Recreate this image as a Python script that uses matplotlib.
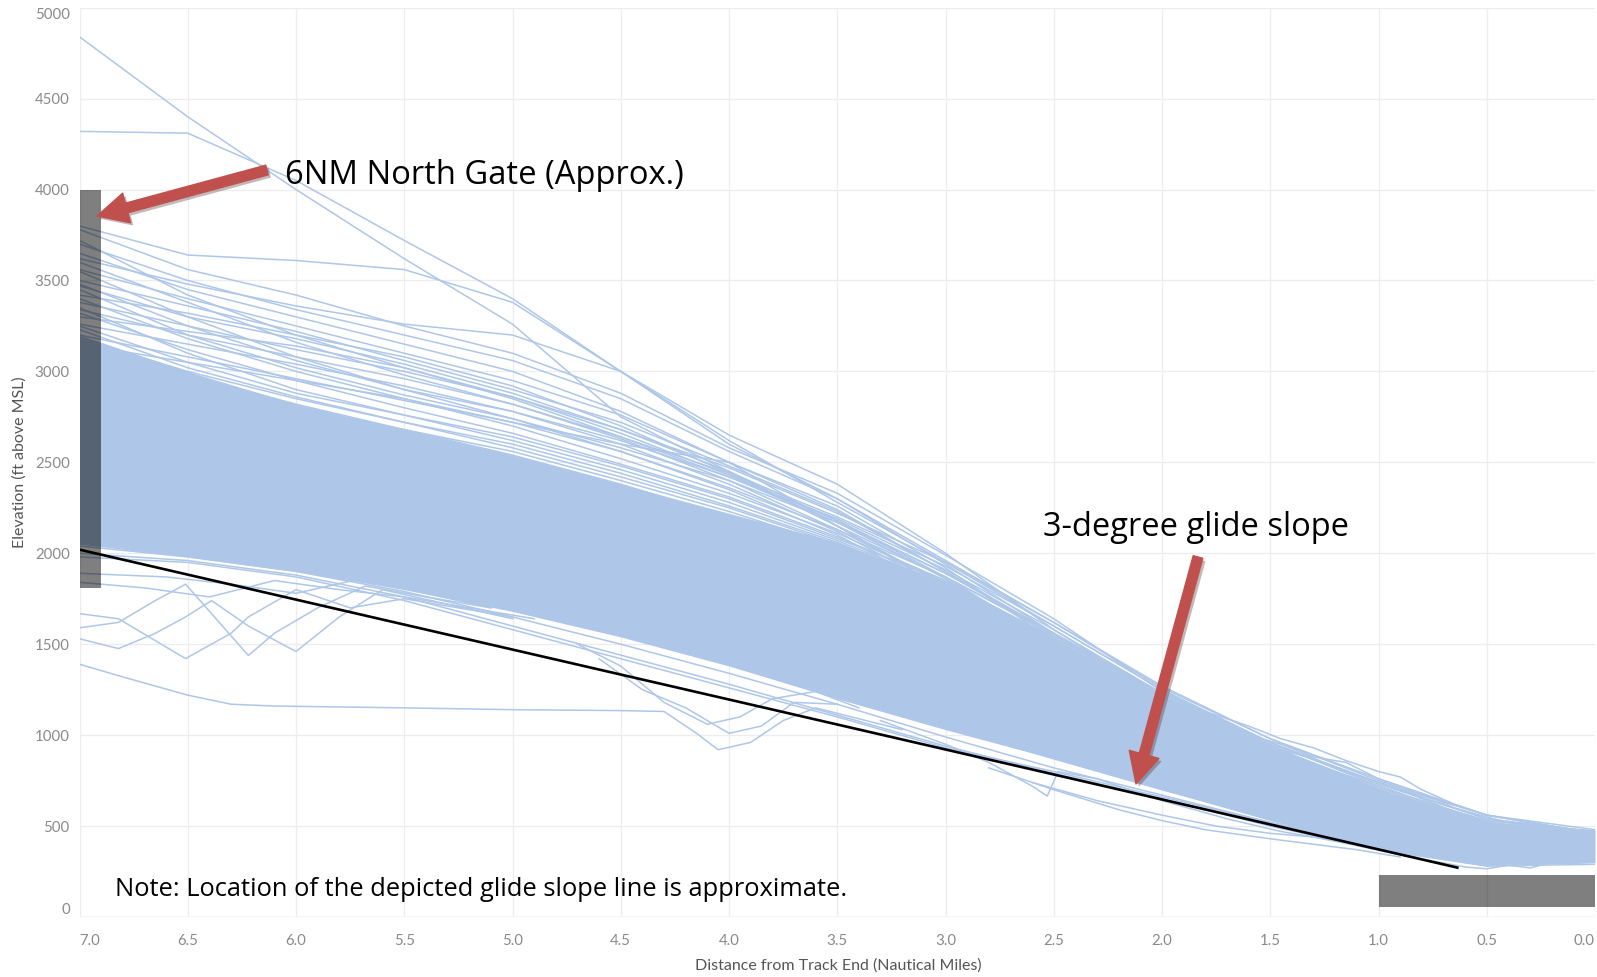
import matplotlib
matplotlib.use("Agg")
import matplotlib.pyplot as plt
from matplotlib.patches import FancyArrowPatch
from matplotlib.transforms import IdentityTransform
import matplotlib.patheffects as pe

W, H = 1597, 977

# distance grid (NM from track end) shared by most tracks
DIST = [7.0, 6.5, 6.0, 5.5, 5.0, 4.5, 4.0, 3.5, 3.0, 2.5, 2.0, 1.5, 1.0, 0.5, 0.0]

# dense core of the tracks (ft above MSL)
BAND_TOP = [3200, 3000, 2820, 2680, 2540, 2380, 2220, 2060, 1840, 1530, 1210, 930, 700, 520, 480]
BAND_BOTTOM = [2050, 1980, 1900, 1800, 1680, 1540, 1380, 1200, 1030, 870, 700, 530, 370, 280, 300]

# individual tracks above the core, on DIST
UPPER_TRACKS = [
    [4840, 4400, 4000, 3620, 3260, 2750, 2450, 2150, 1870, 1560, 1230, 960, 720, 520, 420],
    [4320, 4310, 4050, 3720, 3400, 3000, 2620, 2280, 1950, 1600, 1250, 930, 700, 500, 420],
    [3800, 3640, 3610, 3560, 3380, 3000, 2600, 2300, 1960, 1620, 1260, 980, 760, 560, 460],
    [3780, 3560, 3420, 3250, 3100, 2880, 2580, 2330, 1990, 1640, 1240, 960, 740, 540, 450],
    [3700, 3500, 3340, 3200, 3060, 2850, 2560, 2300, 1940, 1560, 1220, 940, 700, 520, 440],
    [3650, 3450, 3300, 3150, 3000, 2780, 2500, 2240, 1900, 1540, 1200, 920, 680, 500, 430],
    [3620, 3480, 3360, 3260, 3200, 3000, 2650, 2380, 2000, 1580, 1210, 900, 660, 500, 420],
    [3560, 3400, 3250, 3100, 2950, 2760, 2500, 2260, 1920, 1520, 1180, 890, 650, 480, 420],
    [3500, 3360, 3220, 3060, 2900, 2720, 2480, 2230, 1900, 1560, 1230, 950, 740, 560, 460],
    [3470, 3300, 3180, 3040, 2880, 2680, 2450, 2180, 1870, 1500, 1170, 880, 640, 470, 400],
    [3420, 3320, 3200, 3080, 2920, 2700, 2440, 2150, 1820, 1480, 1150, 860, 630, 470, 410],
    [3380, 3250, 3120, 3000, 2860, 2660, 2430, 2180, 1890, 1560, 1200, 910, 680, 520, 450],
    [3340, 3200, 3080, 2960, 2820, 2630, 2400, 2130, 1830, 1480, 1140, 870, 640, 480, 420],
    [3300, 3220, 3140, 3020, 2850, 2640, 2420, 2170, 1860, 1510, 1170, 880, 660, 500, 440],
    [3260, 3150, 3040, 2920, 2780, 2600, 2380, 2120, 1800, 1460, 1120, 850, 620, 460, 400],
    [3200, 3080, 2960, 2840, 2720, 2560, 2350, 2100, 1790, 1450, 1110, 840, 610, 450, 390],
    [3150, 3050, 2950, 2850, 2720, 2600, 2500, 2150, 1800, 1470, 1130, 860, 640, 470, 410],
    [3250, 3050, 2880, 2760, 2640, 2480, 2300, 2080, 1850, 1530, 1190, 900, 670, 500, 440],
    [3180, 3000, 2850, 2720, 2600, 2440, 2260, 2060, 1820, 1500, 1160, 880, 650, 490, 430],
    [3120, 2960, 2800, 2680, 2560, 2400, 2230, 2040, 1840, 1540, 1220, 920, 690, 510, 450],
    [3150, 2980, 2820, 2680, 2540, 2380, 2200, 2000, 1790, 1480, 1160, 890, 660, 490, 440],
    [3080, 2940, 2800, 2660, 2520, 2360, 2180, 1990, 1770, 1470, 1150, 880, 650, 480, 430],
    [3320, 3120, 2950, 2800, 2660, 2490, 2310, 2090, 1840, 1520, 1180, 900, 670, 500, 450],
    [3400, 3180, 3000, 2850, 2700, 2520, 2330, 2110, 1850, 1530, 1190, 910, 680, 510, 450],
    [3550, 3300, 3080, 2900, 2740, 2560, 2360, 2130, 1870, 1550, 1210, 930, 700, 520, 460],
    [3480, 3250, 3060, 2900, 2780, 2620, 2420, 2190, 1910, 1580, 1230, 940, 710, 530, 470],
    [3600, 3380, 3160, 2980, 2820, 2640, 2440, 2200, 1930, 1600, 1250, 960, 730, 540, 470],
    [3720, 3420, 3200, 3020, 2860, 2680, 2470, 2220, 1950, 1620, 1270, 980, 750, 560, 480],
    [3350, 3100, 2900, 2760, 2620, 2460, 2280, 2070, 1830, 1510, 1170, 890, 660, 490, 440],
    [3050, 2920, 2780, 2640, 2500, 2340, 2170, 1980, 1760, 1460, 1140, 870, 640, 480, 430],
    [3230, 3020, 2860, 2720, 2580, 2420, 2250, 2050, 1820, 1500, 1160, 880, 650, 480, 430],
    [3450, 3200, 3020, 2870, 2740, 2580, 2400, 2170, 1890, 1560, 1210, 930, 700, 520, 460],
]

# tracks along the lower edge of the core, on DIST
LOWER_TRACKS = [
    [2100, 2020, 1950, 1840, 1700, 1550, 1400, 1230, 1050, 870, 700, 540, 400, 300, 310],
    [2040, 1980, 1900, 1790, 1650, 1500, 1340, 1170, 990, 820, 670, 520, 380, 290, 300],
    [2000, 1960, 1880, 1760, 1600, 1440, 1280, 1110, 940, 790, 650, 500, 370, 280, 290],
    [1980, 1950, 1870, 1740, 1580, 1420, 1260, 1100, 930, 800, 660, 520, 390, 300, 320],
]

# irregular tracks, each with its own distances
ODD_X = [
    [7.0, 6.82, 6.65, 6.51, 6.39, 6.22, 6.0, 5.8, 5.6, 5.3, 5.0],
    [7.0, 6.82, 6.51, 6.3, 6.22, 6.0, 5.75, 5.5, 5.2, 5.0],
    [7.0, 6.82, 6.65, 6.51, 6.22, 6.1, 5.9, 5.68, 5.4, 5.1],
    [7.0, 6.7, 6.4, 6.1, 5.8, 5.5, 5.2, 4.9],
    [7.0, 6.6, 6.3, 6.0, 5.7, 5.4, 5.1],
    [7.0, 6.8, 6.5, 6.3, 6.1, 5.5, 5.0, 4.5, 4.3, 4.15, 4.05, 3.9, 3.75, 3.6, 3.4, 3.2],
    [4.7, 4.5, 4.3, 4.1, 3.95, 3.8, 3.6, 3.4],
    [4.6, 4.4, 4.2, 4.0, 3.85, 3.7, 3.5],
    [3.3, 3.0, 2.8, 2.6, 2.53, 2.48, 2.3, 2.0, 1.7, 1.45, 1.2, 1.0],
    [2.8, 2.5, 2.2, 2.0, 1.8, 1.5, 1.3, 1.1, 0.9],
    [2.6, 2.3, 2.0, 1.75, 1.5, 1.3, 1.05, 0.85],
    [2.0, 1.8, 1.6, 1.45, 1.3, 1.15, 1.0, 0.9, 0.8, 0.65, 0.5, 0.4, 0.3, 0.2, 0.1, 0.0],
    [2.0, 1.8, 1.6, 1.45, 1.3, 1.15, 1.0, 0.9, 0.8, 0.65, 0.5, 0.4, 0.3, 0.2, 0.1, 0.0],
    [2.0, 1.8, 1.6, 1.45, 1.3, 1.15, 1.0, 0.9, 0.8, 0.65, 0.5, 0.4, 0.3, 0.2, 0.1, 0.0],
    [2.0, 1.8, 1.6, 1.45, 1.3, 1.15, 1.0, 0.9, 0.8, 0.65, 0.5, 0.4, 0.3, 0.2, 0.1, 0.0],
    [1.0, 0.8, 0.6, 0.5, 0.4, 0.3, 0.2, 0.1, 0.0],
]
ODD_Y = [
    [1530, 1476, 1560, 1650, 1740, 1600, 1460, 1650, 1800, 1720, 1640],
    [1668, 1640, 1421, 1560, 1650, 1800, 1700, 1750, 1690, 1650],
    [1590, 1620, 1740, 1830, 1438, 1560, 1700, 1820, 1760, 1700],
    [1840, 1810, 1760, 1850, 1800, 1760, 1700, 1640],
    [1890, 1870, 1830, 1780, 1860, 1780, 1700],
    [1390, 1320, 1220, 1170, 1160, 1150, 1140, 1135, 1130, 1010, 920, 960, 1080, 1150, 1090, 1030],
    [1500, 1380, 1180, 1060, 1100, 1200, 1240, 1150],
    [1420, 1250, 1150, 1010, 1050, 1180, 1170],
    [1080, 950, 850, 720, 665, 800, 760, 640, 540, 470, 420, 380],
    [820, 700, 590, 530, 480, 430, 400, 370, 330],
    [740, 640, 560, 500, 460, 440, 380, 330],
    [1230, 1130, 1050, 980, 930, 860, 800, 770, 700, 620, 560, 540, 520, 500, 480, 470],
    [1180, 1100, 1000, 950, 880, 850, 760, 720, 680, 600, 550, 520, 510, 490, 470, 460],
    [1150, 1060, 990, 920, 870, 800, 740, 700, 650, 580, 530, 520, 500, 470, 460, 450],
    [1120, 1040, 960, 900, 840, 780, 720, 680, 620, 560, 520, 500, 480, 460, 440, 430],
    [380, 320, 275, 265, 285, 270, 300, 290, 310],
]

# 3-degree glide slope (approximate)
GLIDE_X = [7.0, 0.63]
GLIDE_Y = [2020, 270]

# north gate and runway blocks
GATE_X = (7.0, 6.9)
GATE_Y = (1810, 4000)
RUNWAY_X = (1.0, 0.0)
RUNWAY_Y = (55, 230)

X_TICKS = [7.0, 6.5, 6.0, 5.5, 5.0, 4.5, 4.0, 3.5, 3.0, 2.5, 2.0, 1.5, 1.0, 0.5, 0.0]
Y_TICKS = [0, 500, 1000, 1500, 2000, 2500, 3000, 3500, 4000, 4500, 5000]

TRACK_COLOR = "#aec7e8"
TICK_COLOR = "#8a8a8a"
RED = "#c0504d"

plt.rcParams["font.family"] = ["Lato", "DejaVu Sans"]

fig = plt.figure(figsize=(W / 100, H / 100), dpi=100)
ax = fig.add_axes([79.5 / W, (H - 917) / H, (1595 - 79.5) / W, (917 - 7.7) / H])

ax.fill_between(DIST, BAND_BOTTOM, BAND_TOP, color=TRACK_COLOR, lw=0, zorder=2)
for ys in UPPER_TRACKS + LOWER_TRACKS:
    ax.plot(DIST, ys, color=TRACK_COLOR, lw=1.1, zorder=2)
for xs, ys in zip(ODD_X, ODD_Y):
    ax.plot(xs, ys, color=TRACK_COLOR, lw=1.1, zorder=2)

ax.plot(GLIDE_X, GLIDE_Y, color="black", lw=1.9, zorder=4, solid_capstyle="butt")

ax.fill_between(GATE_X, GATE_Y[0], GATE_Y[1], color="black", alpha=0.5, lw=0, zorder=3)
ax.fill_between(RUNWAY_X, RUNWAY_Y[0], RUNWAY_Y[1], color="black", alpha=0.5, lw=0, zorder=3)

ax.set_xlim(7.0, 0.0)
ax.set_ylim(0, 5000)
ax.set_xticks(X_TICKS)
ax.set_yticks(Y_TICKS)
ax.set_xticklabels([f"{v:.1f}" for v in X_TICKS])
ax.set_yticklabels([str(v) for v in Y_TICKS])
ax.grid(True, color="#ededf0", lw=0.9, zorder=0)
ax.set_axisbelow(True)
for s in ax.spines.values():
    s.set_visible(False)
ax.axhline(0, color="#e2e2e2", lw=1.0, zorder=1)
ax.tick_params(length=0, labelsize=10.8, labelcolor=TICK_COLOR)
ax.tick_params(axis="x", pad=12)
ax.tick_params(axis="y", pad=7)
xl = ax.get_xticklabels()
xl[0].set_ha("left")
xl[-1].set_ha("right")
yl = ax.get_yticklabels()
yl[0].set_va("bottom")
yl[-1].set_va("top")

fig.text(20 / W, 1 - 462 / H, "Elevation (ft above MSL)", rotation=90,
         ha="center", va="center", fontsize=11.5, color="#555555")
fig.text(838 / W, 1 - 966 / H, "Distance from Track End (Nautical Miles)",
         ha="center", va="center", fontsize=11.5, color="#555555")

fig.text(285 / W, 1 - 175 / H, "6NM North Gate (Approx.)", ha="left", va="center",
         fontsize=23.6, color="black", family=["Open Sans", "DejaVu Sans"])
fig.text(1043 / W, 1 - 527 / H, "3-degree glide slope", ha="left", va="center",
         fontsize=23.5, color="black", family=["Open Sans", "DejaVu Sans"])
fig.text(115 / W, 1 - 890 / H, "Note: Location of the depicted glide slope line is approximate.",
         ha="left", va="center", fontsize=18.4, color="black", family=["Open Sans", "DejaVu Sans"])

shadow = [pe.withSimplePatchShadow(offset=(2, -2), alpha=0.3)]
for (x0, y0), (x1, y1) in [((267, 170), (97, 216)), ((1198, 557), (1136, 784))]:
    arr = FancyArrowPatch((x0, H - y0), (x1, H - y1), transform=IdentityTransform(),
                          arrowstyle="simple,head_length=1.7,head_width=1.7,tail_width=0.55",
                          mutation_scale=13, color=RED, shrinkA=0, shrinkB=0,
                          path_effects=shadow, zorder=10)
    fig.add_artist(arr)

fig.savefig("out.png", dpi=100)
